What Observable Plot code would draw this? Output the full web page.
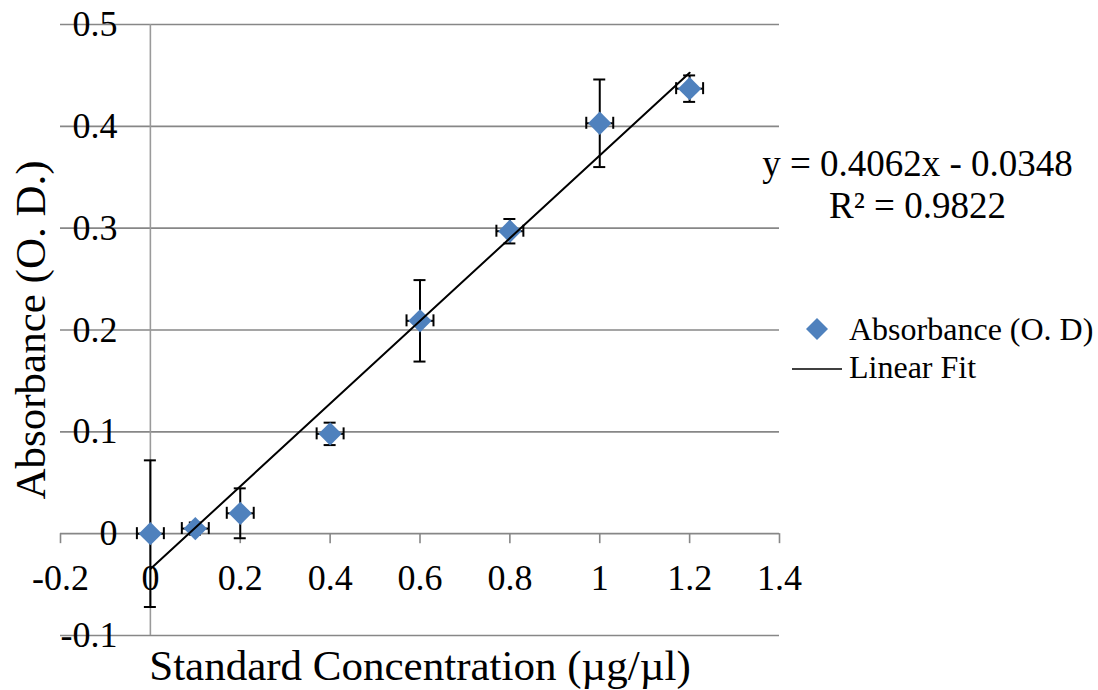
<!DOCTYPE html>
<html><head><meta charset="utf-8">
<script src="https://cdn.jsdelivr.net/npm/d3@7"></script>
<script src="https://cdn.jsdelivr.net/npm/@observablehq/plot@0.6"></script>
<style>
body{margin:0;background:#fff;}
#wrap{position:relative;width:1098px;height:690px;font-family:'Liberation Serif';}
#wrap svg.plot{display:block;}
#wrap svg text{font-family:'Liberation Serif';}
.leg{position:absolute;font-family:'Liberation Serif';font-size:32px;line-height:32px;color:#000;white-space:nowrap;}
</style></head><body><div id="wrap"></div>
<script>
// ---- data ----
const concentrations = [0, 0.1, 0.2, 0.4, 0.6, 0.8, 1.0, 1.2];
const absorbance = [0, 0.005, 0.020, 0.098, 0.209, 0.297, 0.403, 0.437];
const absorbanceErr = [0.072, 0.006, 0.0245, 0.011, 0.040, 0.012, 0.043, 0.013];
const concentrationErr = [0.03, 0.03, 0.03, 0.03, 0.03, 0.03, 0.03, 0.03];
const fitX = [0, 1.2];
const fitY = [-0.0348, 0.4526];
const xTicks = [-0.2, 0, 0.2, 0.4, 0.6, 0.8, 1, 1.2, 1.4];
const xTickLabels = ["-0.2", "0", "0.2", "0.4", "0.6", "0.8", "1", "1.2", "1.4"];
const yTicks = [-0.1, 0, 0.1, 0.2, 0.3, 0.4, 0.5];
const yTickLabels = ["-0.1", "0", "0.1", "0.2", "0.3", "0.4", "0.5"];
const equationLines = ["y = 0.4062x - 0.0348", "R\u00b2 = 0.9822"];
const seriesNames = ["Absorbance (O. D)", "Linear Fit"];
const xTitle = "Standard Concentration (\u00b5g/\u00b5l)";
const yTitle = "Absorbance (O. D.)";

// ---- tables built from the arrays ----
const points = concentrations.map((x, i) => ({x, y: absorbance[i], ey: absorbanceErr[i], ex: concentrationErr[i]}));
const fit = fitX.map((x, i) => ({x, y: fitY[i]}));
const xt = xTicks.map((v, i) => ({v, label: xTickLabels[i]}));
const yt = yTicks.map((v, i) => ({v, label: yTickLabels[i]}));

const blue = "#4F81BD";
const grid = "#878787";
const ink = "#000";
const serif = "Liberation Serif";

const chart = Plot.plot({
  width: 1098,
  height: 690,
  marginLeft: 60,
  marginRight: 319,
  marginTop: 24,
  marginBottom: 55,
  style: {fontFamily: serif, background: "#fff", overflow: "visible"},
  x: {domain: [-0.2, 1.4], axis: null},
  y: {domain: [-0.1, 0.5], axis: null},
  marks: [
    Plot.ruleY(yt, {y: "v", stroke: grid, strokeWidth: 1.6}),
    Plot.ruleX([0], {stroke: "#9a9a9a", strokeWidth: 1.6}),
    Plot.ruleX(xt, {x: "v", y1: () => 0, y2: () => 0, insetBottom: -10, stroke: grid, strokeWidth: 1.6}),
    // tick labels
    Plot.text(xt, {x: "v", y: () => 0, text: "label", dy: 45, fontSize: 36, fontFamily: serif, fill: ink}),
    Plot.text(yt, {y: "v", frameAnchor: "left", dx: 57, textAnchor: "end", text: "label", fontSize: 36, fontFamily: serif, fill: ink}),
    // error bars (vertical)
    Plot.ruleX(points, {x: "x", y1: d => d.y - d.ey, y2: d => d.y + d.ey, stroke: ink, strokeWidth: 2}),
    Plot.ruleY(points, {y: d => d.y - d.ey, x1: "x", x2: "x", insetLeft: -6, insetRight: -6, stroke: ink, strokeWidth: 2}),
    Plot.ruleY(points, {y: d => d.y + d.ey, x1: "x", x2: "x", insetLeft: -6, insetRight: -6, stroke: ink, strokeWidth: 2}),
    // error bars (horizontal)
    Plot.ruleY(points, {y: "y", x1: d => d.x - d.ex, x2: d => d.x + d.ex, stroke: ink, strokeWidth: 2}),
    Plot.ruleX(points, {x: d => d.x - d.ex, y1: "y", y2: "y", insetTop: -6, insetBottom: -6, stroke: ink, strokeWidth: 2}),
    Plot.ruleX(points, {x: d => d.x + d.ex, y1: "y", y2: "y", insetTop: -6, insetBottom: -6, stroke: ink, strokeWidth: 2}),
    // markers
    Plot.dot(points, {x: "x", y: "y", symbol: "diamond2", r: 10.5, fill: blue, stroke: "none"}),
    // linear fit
    Plot.line(fit, {x: "x", y: "y", stroke: ink, strokeWidth: 2}),
    // trendline equation
    Plot.text([equationLines[0]], {frameAnchor: "top-right", text: d => d, textAnchor: "middle", lineAnchor: "bottom", dx: 138, dy: 151, fontSize: 37, fontFamily: serif, fill: ink}),
    Plot.text([equationLines[1]], {frameAnchor: "top-right", text: d => d, textAnchor: "middle", lineAnchor: "bottom", dx: 138, dy: 193, fontSize: 37, fontFamily: serif, fill: ink}),
    // axis titles
    Plot.text([xTitle], {frameAnchor: "bottom", text: d => d, textAnchor: "middle", lineAnchor: "bottom", dy: 44, fontSize: 43, fontFamily: serif, fill: ink}),
    Plot.text([yTitle], {frameAnchor: "left", text: d => d, rotate: -90, textAnchor: "middle", lineAnchor: "bottom", dx: -16, fontSize: 43, fontFamily: serif, fill: ink})
  ]
});
chart.classList.add("plot");
const wrap = document.getElementById("wrap");
wrap.appendChild(chart);

// legend (right side)
const leg = document.createElement("div");
leg.innerHTML = `
  <svg class="leg" style="left:790px;top:310px;overflow:visible" width="60" height="70">
    <path d="M27,8 L38,19 L27,30 L16,19 Z" fill="${blue}"/>
    <line x1="2" x2="52" y1="59" y2="59" stroke="${ink}" stroke-width="1.6"/>
  </svg>
  <span class="leg" style="left:849px;top:313px">${seriesNames[0]}</span>
  <span class="leg" style="left:849px;top:351px">${seriesNames[1]}</span>`;
wrap.appendChild(leg);
</script>
</body></html>
